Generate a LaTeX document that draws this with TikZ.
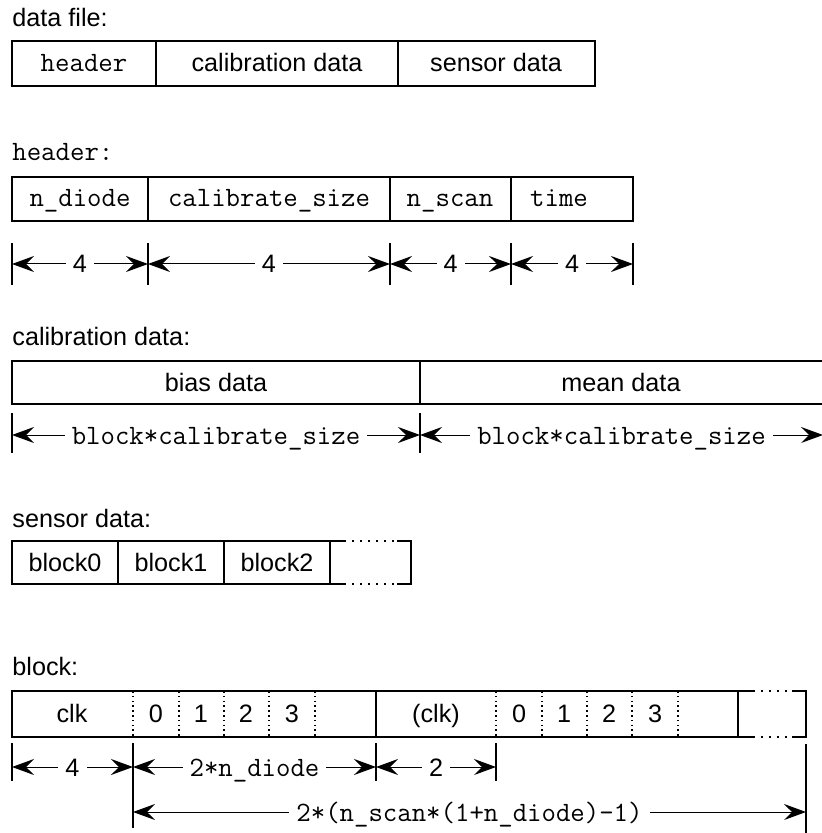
\documentclass[tikz,border=0pt]{standalone}
\usepackage{fontspec}
\setmainfont{Liberation Sans}
\usetikzlibrary{arrows.meta}
\tikzset{
    %Define standard arrow tip
    >={Stealth[length=11pt,width=8pt,inset=4pt]},
}
\newcommand{\sansfont}{\fontsize{12.6}{15}\selectfont}
\newcommand{\monofont}{\fontsize{14}{16}\selectfont\ttfamily}
\begin{document}
\begin{tikzpicture}[x=0.5pt, y=-0.5pt,
    txt/.style = {anchor=base, inner sep=0pt, font=\sansfont},
    tt/.style = {txt, font=\monofont},
    title/.style = {txt, anchor=base west},
    box/.style = {line width=0.75pt},
    sep/.style = {line width=0.6pt, dash pattern=on 0.8pt off 1.6pt},
    gap/.style = {line width=0.75pt, dash pattern=on 1pt off 3pt},
    tick/.style = {line width=0.6pt},
    dim/.style = {<->, line width=0.5pt},
    dimlabel/.style = {fill=white, inner xsep=3.5pt, inner ysep=1pt,
                       text height=9pt, text depth=0pt, font=\sansfont},
  ]
  \useasboundingbox (0,0) rectangle (822,833);
  \clip (0,0) rectangle (822,833);

  % data file
  \node[title] (dflabel) at (12,27) {data file:};
  \draw[box] (12,41) rectangle (595,86);
  \draw[box] (156,41) -- (156,86) (398,41) -- (398,86);
  \node[tt] (dfheader) at (84,72) {header};
  \node[txt] (dfcalib) at (277,72) {calibration data};
  \node[txt] (dfsensor) at (496,72) {sensor data};

  % header
  \node[title, font=\monofont] (hdlabel) at (12,161) {header:};
  \draw[box] (12,177) rectangle (633,221);
  \foreach \x in {148,390,511}
    \draw[box] (\x,177) -- (\x,221);
  \node[tt] (ndiode) at (80,207) {n\_diode};
  \node[tt] (calsize) at (269,207) {calibrate\_size};
  \node[tt] (nscan) at (450,207) {n\_scan};
  \node[tt] (time) at (559,207) {time};
  \foreach \x [count=\i from 0] in {12,148,390,511,633} {
    \draw[tick] (\x,243) -- (\x,285);
    \coordinate (h\i) at (\x,264);
  }
  \draw[dim] (h0) -- node[dimlabel] (hd0) {4} (h1);
  \draw[dim] (h1) -- node[dimlabel] (hd1) {4} (h2);
  \draw[dim] (h2) -- node[dimlabel] (hd2) {4} (h3);
  \draw[dim] (h3) -- node[dimlabel] (hd3) {4} (h4);

  % calibration data
  \node[title] (callabel) at (12,346) {calibration data:};
  \draw[box] (12,361) rectangle (826,404);
  \draw[box] (420,361) -- (420,404);
  \node[txt] (bias) at (216,391) {bias data};
  \node[txt] (mean) at (621,391) {mean data};
  \foreach \x [count=\i from 0] in {12,420,823} {
    \draw[tick] (\x,413) -- (\x,453);
    \coordinate (c\i) at (\x,435);
  }
  \draw[dim] (c0) -- node[dimlabel, font=\monofont] (cd0) {block*calibrate\_size} (c1);
  \draw[dim] (c1) -- node[dimlabel, font=\monofont] (cd1) {block*calibrate\_size} (c2);

  % sensor data
  \node[title] (snlabel) at (12,527) {sensor data:};
  \draw[box] (344,541) -- (12,541) -- (12,584) -- (344,584);
  \foreach \x in {118,224,330}
    \draw[box] (\x,541) -- (\x,584);
  \draw[box] (397,541) -- (411,541) -- (411,584) -- (397,584);
  \draw[gap] (344,541) -- (397,541) (344,584) -- (397,584);
  \node[txt] (blk0) at (65,571) {block0};
  \node[txt] (blk1) at (171,571) {block1};
  \node[txt] (blk2) at (277,571) {block2};

  % block
  \node[title] (bklabel) at (12,675) {block:};
  \draw[box] (753,691) -- (12,691) -- (12,737) -- (753,737);
  \draw[box] (376,691) -- (376,737) (738,691) -- (738,737);
  \foreach \x in {133,179,224,269,315,496,542,587,632,678}
    \draw[sep] (\x,691) -- (\x,737);
  \draw[box] (792,691) -- (806,691) -- (806,737) -- (792,737);
  \draw[gap] (753,691) -- (792,691) (753,737) -- (792,737);
  \node[txt] (clk) at (72,722) {clk};
  \node[txt] (d0) at (156,722) {0};
  \node[txt] (d1) at (201,722) {1};
  \node[txt] (d2) at (246,722) {2};
  \node[txt] (d3) at (292,722) {3};
  \node[txt] (clk2) at (436,722) {(clk)};
  \node[txt] (e0) at (519,722) {0};
  \node[txt] (e1) at (564,722) {1};
  \node[txt] (e2) at (609,722) {2};
  \node[txt] (e3) at (655,722) {3};
  \foreach \x [count=\i from 0] in {12,133,376,496} {
    \draw[tick] (\x,743) -- (\x,781);
    \coordinate (b\i) at (\x,767);
  }
  \draw[tick] (133,781) -- (133,828);
  \draw[tick] (806,744) -- (806,840);
  \coordinate (l0) at (133,812);
  \coordinate (l1) at (806,812);
  \draw[dim] (b0) -- node[dimlabel] (bd0) {4} (b1);
  \draw[dim] (b1) -- node[dimlabel, font=\monofont] (bd1) {2*n\_diode} (b2);
  \draw[dim] (b2) -- node[dimlabel] (bd2) {2} (b3);
  \draw[dim] (l0) -- node[dimlabel, font=\monofont] (ld) {2*(n\_scan*(1+n\_diode)-1)} (l1);
\end{tikzpicture}
\end{document}
